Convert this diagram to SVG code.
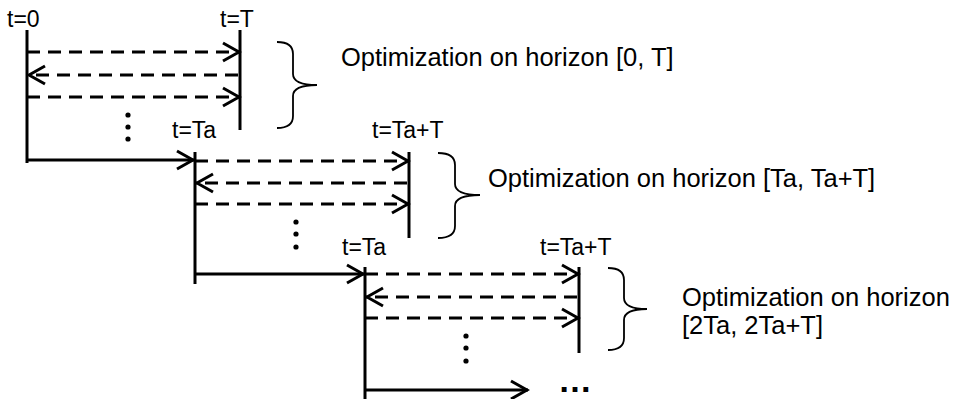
<svg xmlns="http://www.w3.org/2000/svg" width="962" height="399" viewBox="0 0 962 399">
<defs>
<style>
.bar{stroke:#000;stroke-width:3;fill:none}
.dash{stroke:#000;stroke-width:3;fill:none;stroke-dasharray:13 8}
.solid{stroke:#000;stroke-width:3;fill:none}
.brace{stroke:#000;stroke-width:1.8;fill:none}
.lbl{font-family:"Liberation Sans",Arial,sans-serif;font-size:23px;fill:#000}
.big{font-family:"Liberation Sans",Arial,sans-serif;font-size:25.5px;fill:#000}
.dot{fill:#000}
</style>
<marker id="ah" viewBox="-19 -11 21 22" refX="0" refY="0" markerWidth="21" markerHeight="22" markerUnits="userSpaceOnUse" orient="auto">
<path d="M -17 -9 L -1 0 L -17 9" fill="none" stroke="#000" stroke-width="3" stroke-dasharray="none"/>
</marker>
</defs>
<rect width="962" height="399" fill="#fff"/>

<g id="stage1">
<line class="bar" x1="27" y1="30" x2="27" y2="163"/>
<line class="bar" x1="240" y1="30" x2="240" y2="130"/>
<text class="lbl" x="7" y="27">t=0</text>
<text class="lbl" x="220" y="27">t=T</text>
<circle class="dot" cx="128" cy="115" r="2.6"/>
<circle class="dot" cx="128" cy="127" r="2.6"/>
<circle class="dot" cx="128" cy="139" r="2.6"/>
<path class="brace" d="M 277 42 Q 293 42 293 54 L 293 74 Q 293 85 317 85 Q 293 85 293 96 L 293 116 Q 293 128 277 128"/>
<text class="big" x="341" y="66">Optimization on horizon [0, T]</text>
</g>

<g id="stage2">
<line class="bar" x1="195" y1="152" x2="195" y2="284"/>
<line class="bar" x1="409" y1="152" x2="409" y2="238"/>
<text class="lbl" x="172" y="138">t=Ta</text>
<text class="lbl" x="372" y="138">t=Ta+T</text>
<circle class="dot" cx="296" cy="222" r="2.6"/>
<circle class="dot" cx="296" cy="234" r="2.6"/>
<circle class="dot" cx="296" cy="247" r="2.6"/>
<path class="brace" d="M 438 153 Q 455 153 455 165 L 455 184 Q 455 195 480 195 Q 455 195 455 206 L 455 226 Q 455 238 438 238"/>
<text class="big" x="488" y="187">Optimization on horizon [Ta, Ta+T]</text>
</g>

<g id="stage3">
<line class="bar" x1="365" y1="267" x2="365" y2="399"/>
<line class="bar" x1="579" y1="267" x2="579" y2="353"/>
<text class="lbl" x="342" y="255">t=Ta</text>
<text class="lbl" x="540" y="255">t=Ta+T</text>
<circle class="dot" cx="466" cy="336" r="2.6"/>
<circle class="dot" cx="466" cy="348" r="2.6"/>
<circle class="dot" cx="466" cy="361" r="2.6"/>
<path class="brace" d="M 608 268 Q 624 268 624 280 L 624 298 Q 624 309 647 309 Q 624 309 624 320 L 624 338 Q 624 350 608 350"/>
<text class="big" x="682" y="306">Optimization on horizon</text>
<text class="big" x="682" y="334">[2Ta, 2Ta+T]</text>
<text class="big" x="558" y="392" style="font-size:34px;font-weight:bold">…</text>
</g>

<g id="connectors">
<line class="dash" x1="27" y1="52" x2="240" y2="52" marker-end="url(#ah)"/>
<line class="dash" x1="238" y1="75" x2="28" y2="75" marker-end="url(#ah)"/>
<line class="dash" x1="27" y1="97" x2="240" y2="97" marker-end="url(#ah)"/>
<line class="solid" x1="27" y1="160" x2="194" y2="160" marker-end="url(#ah)"/>

<line class="dash" x1="195" y1="161" x2="409" y2="161" marker-end="url(#ah)"/>
<line class="dash" x1="407" y1="183" x2="196" y2="183" marker-end="url(#ah)"/>
<line class="dash" x1="195" y1="204" x2="409" y2="204" marker-end="url(#ah)"/>
<line class="solid" x1="195" y1="274" x2="364" y2="274" marker-end="url(#ah)"/>

<line class="dash" x1="365" y1="274" x2="579" y2="274" marker-end="url(#ah)"/>
<line class="dash" x1="577" y1="297" x2="366" y2="297" marker-end="url(#ah)"/>
<line class="dash" x1="365" y1="318" x2="579" y2="318" marker-end="url(#ah)"/>
<line class="solid" x1="365" y1="390" x2="528" y2="390" marker-end="url(#ah)"/>
</g>
</svg>
